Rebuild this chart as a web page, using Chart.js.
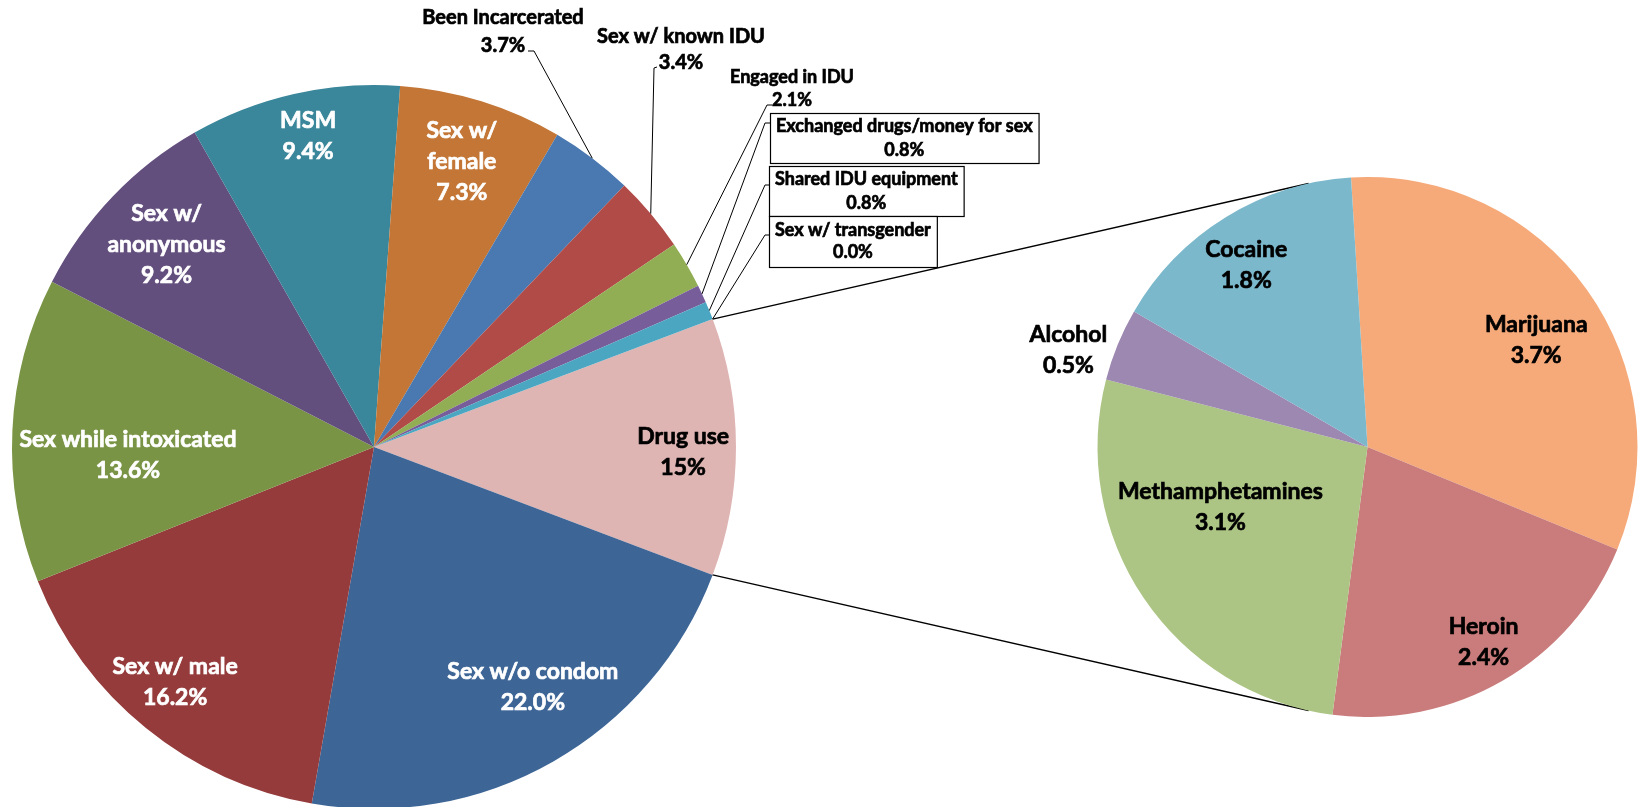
<!DOCTYPE html>
<html>
<head>
<meta charset="utf-8">
<script src="https://cdn.jsdelivr.net/npm/chart.js@4.4.0/dist/chart.umd.min.js"></script>
<style>
html, body { margin: 0; padding: 0; background: #fff; overflow: hidden; width: 1638px; height: 807px; }
#main { position: absolute; left: 0; top: 0; }
#drugs { position: absolute; left: 997px; top: 177px; }
</style>
</head>
<body>
<canvas id="main" width="1638" height="900"></canvas>
<canvas id="drugs" width="641" height="540"></canvas>
<script>
// data - main pie (first slice is the "other" slice that is split out)
const mainLabels = ['Drug use', 'Sex w/o condom', 'Sex w/ male', 'Sex while intoxicated', 'Sex w/ anonymous', 'MSM',
    'Sex w/ female', 'Been Incarcerated', 'Sex w/ known IDU', 'Engaged in IDU', 'Exchanged drugs/money for sex',
    'Shared IDU equipment', 'Sex w/ transgender'];
const mainValues = [11.5, 22.0, 16.2, 13.6, 9.2, 9.4, 7.3, 3.7, 3.4, 2.1, 0.8, 0.8, 0.0];
const mainPctText = ['15%', '22.0%', '16.2%', '13.6%', '9.2%', '9.4%', '7.3%', '3.7%', '3.4%', '2.1%', '0.8%', '0.8%', '0.0%'];

// data - secondary pie (breakdown of drug use)
const drugLabels = ['Marijuana', 'Heroin', 'Methamphetamines', 'Alcohol', 'Cocaine'];
const drugValues = [3.7, 2.4, 3.1, 0.5, 1.8];
const drugPctText = ['3.7%', '2.4%', '3.1%', '0.5%', '1.8%'];

const mainColors = ['#dfb5b4', '#3d6596', '#953b3b', '#7a9445', '#634f7e', '#3a869a', '#c37636',
    '#4a78b0', '#b14b48', '#91ae54', '#775d9a', '#4aa6c1', '#f79646'];
const drugColors = ['#f6aa7a', '#c97c7b', '#acc584', '#9d88b1', '#7bb8cc'];

const FONT = '"Lato", "Open Sans", sans-serif';

// label layout (radius factor, angle shift in degrees, text colour, wrap after "w/")
const mainInner = {
    0: { f: 0.854, da: 0.9, color: '#000' },
    1: { f: 0.795, da: -3.8, color: '#fff' },
    2: { f: 0.85, da: 1.2, color: '#fff' },
    3: { f: 0.68, da: -4.6, color: '#fff' },
    4: { f: 0.80, da: 0.5, color: '#fff', wrap: true },
    5: { f: 0.877, da: 0.8, color: '#fff' },
    6: { f: 0.826, da: -0.2, color: '#fff', wrap: true }
};
// outside labels: text centre, font size, line height, leader start + knee, optional box
const mainOuter = {
    7: { x: 503, y: 32, size: 20, lh: 28, p0: [528, 51], p1: [534, 51] },
    8: { x: 681, y: 50, size: 20, lh: 26, p0: [657, 67], p1: [654, 68] },
    9: { x: 792, y: 89, size: 18, lh: 23, p0: [772, 105], p1: [767, 105] },
    10: { box: [770, 113, 50], size: 18, lh: 24, p0: [770, 123], p1: [765, 123] },
    11: { box: [769, 166, 50], size: 18, lh: 24, p0: [769, 185], p1: [765, 185] },
    12: { box: [769, 216, 51], size: 18, lh: 22, p0: [769, 235], p1: [765, 235] }
};
const drugInner = [
    { f: 0.74, da: 3.2 },
    { f: 0.842, da: -0.6 },
    { f: 0.589, da: 11.7 },
    { f: 1.165, da: -4.3 },
    { f: 0.81, da: -2.0 }
];

// heavy text: fill plus a thin stroke in the same colour
function drawLines(ctx, lines, x, y, lh) {
    const top = y - (lines.length - 1) * lh / 2;
    ctx.lineWidth = 0.7;
    ctx.strokeStyle = ctx.fillStyle;
    lines.forEach((t, i) => {
        ctx.fillText(t, x, top + i * lh);
        ctx.strokeText(t, x, top + i * lh);
    });
}

function midPoint(arc, f, da) {
    const a = (arc.startAngle + arc.endAngle) / 2 + da * Math.PI / 180;
    return [arc.x + Math.cos(a) * arc.outerRadius * f, arc.y + Math.sin(a) * arc.outerRadius * f];
}

// labels of secondary pie
const drugLabelPlugin = {
    id: 'drugLabels',
    afterDatasetsDraw(chart) {
        const ctx = chart.ctx;
        const arcs = chart.getDatasetMeta(0).data;
        ctx.save();
        ctx.font = 'bold 23px ' + FONT;
        ctx.fillStyle = '#000';
        ctx.textAlign = 'center';
        ctx.textBaseline = 'middle';
        arcs.forEach((arc, i) => {
            const l = drugInner[i];
            const p = midPoint(arc, l.f, l.da);
            drawLines(ctx, [drugLabels[i], drugPctText[i]], p[0], p[1], 31);
        });
        ctx.restore();
    }
};

const drugCanvas = document.getElementById('drugs');
const drugChart = new Chart(drugCanvas, {
    type: 'pie',
    data: {
        labels: drugLabels,
        datasets: [{ data: drugValues, backgroundColor: drugColors, borderWidth: 0 }]
    },
    options: {
        responsive: false,
        animation: false,
        rotation: -3.5,
        layout: { padding: { left: 100, top: 0, right: 0, bottom: 0 } },
        plugins: { legend: { display: false }, tooltip: { enabled: false } }
    },
    plugins: [drugLabelPlugin]
});

// labels + leader lines + connector lines of main pie
const mainLabelPlugin = {
    id: 'mainLabels',
    afterDatasetsDraw(chart) {
        const ctx = chart.ctx;
        const arcs = chart.getDatasetMeta(0).data;
        ctx.save();
        ctx.textAlign = 'center';
        ctx.textBaseline = 'middle';

        // inside labels
        ctx.font = 'bold 23px ' + FONT;
        Object.keys(mainInner).forEach(k => {
            const i = +k, l = mainInner[k];
            const p = midPoint(arcs[i], l.f, l.da);
            let name = [mainLabels[i]];
            if (l.wrap) {
                const cut = mainLabels[i].indexOf('w/') + 2;
                name = [mainLabels[i].slice(0, cut), mainLabels[i].slice(cut + 1)];
            }
            ctx.fillStyle = l.color;
            drawLines(ctx, name.concat(mainPctText[i]), p[0], p[1], 31);
        });

        // outside labels
        Object.keys(mainOuter).forEach(k => {
            const i = +k, l = mainOuter[k];
            ctx.font = 'bold ' + l.size + 'px ' + FONT;
            const lines = [mainLabels[i], mainPctText[i]];
            let cx = l.x, cy = l.y;
            if (l.box) {
                const w = Math.max(...lines.map(t => ctx.measureText(t).width)) + 12;
                cx = l.box[0] + w / 2;
                cy = l.box[1] + l.box[2] / 2;
                ctx.fillStyle = '#fff';
                ctx.fillRect(l.box[0], l.box[1], w, l.box[2]);
                ctx.strokeStyle = '#000';
                ctx.lineWidth = 1.2;
                ctx.strokeRect(l.box[0] + 0.5, l.box[1] + 0.5, w, l.box[2]);
            }
            ctx.fillStyle = '#000';
            drawLines(ctx, lines, cx, cy, l.lh);

            const e = midPoint(arcs[i], 1, 0);
            ctx.strokeStyle = '#000';
            ctx.lineWidth = 1;
            ctx.beginPath();
            ctx.moveTo(l.p0[0], l.p0[1]);
            ctx.lineTo(l.p1[0], l.p1[1]);
            ctx.lineTo(e[0], e[1]);
            ctx.stroke();
        });

        // connector lines to the secondary pie
        const other = arcs[0];
        const d0 = drugChart.getDatasetMeta(0).data[0];
        const cx2 = d0.x + drugCanvas.offsetLeft;
        const cy2 = d0.y + drugCanvas.offsetTop;
        const r2 = d0.outerRadius;
        const tilt = 102.6 * Math.PI / 180;
        ctx.strokeStyle = '#000';
        ctx.lineWidth = 1.3;
        ctx.beginPath();
        ctx.moveTo(other.x + Math.cos(other.startAngle) * other.outerRadius, other.y + Math.sin(other.startAngle) * other.outerRadius);
        ctx.lineTo(cx2 + Math.cos(-tilt) * r2, cy2 + Math.sin(-tilt) * r2);
        ctx.moveTo(other.x + Math.cos(other.endAngle) * other.outerRadius, other.y + Math.sin(other.endAngle) * other.outerRadius);
        ctx.lineTo(cx2 + Math.cos(tilt) * r2, cy2 + Math.sin(tilt) * r2);
        ctx.stroke();
        ctx.restore();
    }
};

const mainChart = new Chart(document.getElementById('main'), {
    type: 'pie',
    data: {
        labels: mainLabels,
        datasets: [{ data: mainValues, backgroundColor: mainColors, borderWidth: 0 }]
    },
    options: {
        responsive: false,
        animation: false,
        rotation: 69.3,
        layout: { padding: { left: 12, top: 85, right: 902, bottom: 91 } },
        plugins: { legend: { display: false }, tooltip: { enabled: false } }
    },
    plugins: [mainLabelPlugin]
});
</script>
</body>
</html>
